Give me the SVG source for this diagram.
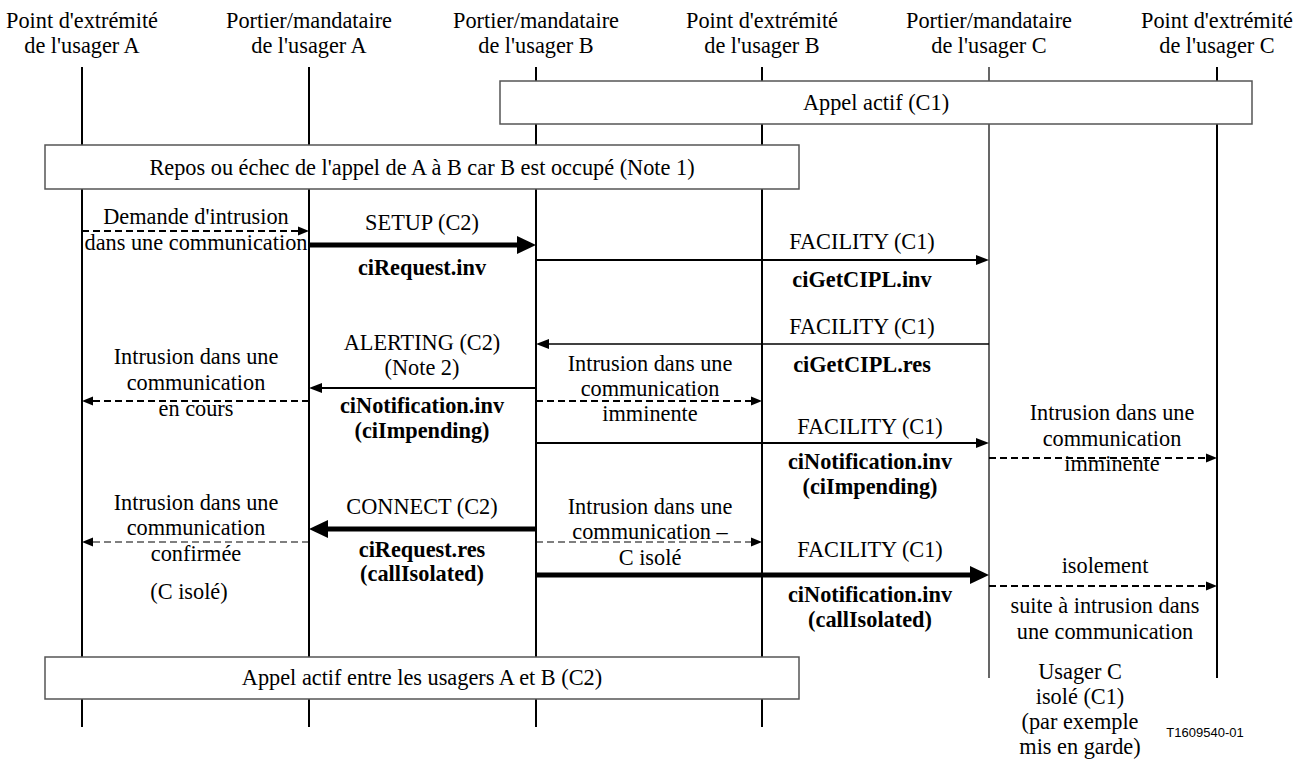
<svg xmlns="http://www.w3.org/2000/svg" width="1305" height="763" viewBox="0 0 1305 763">
  <style>
    .t { font-family: 'Liberation Serif', serif; font-size: 22.3px; fill: #000; text-anchor: middle; }
    .b { font-weight: bold; }
    .life { stroke: #000; stroke-width: 2; fill: none; }
    .life-thin { stroke: #000; stroke-width: 1.2; fill: none; }
    .box { fill: #fff; stroke: #555; stroke-width: 1.5; }
    .msg { stroke: #000; stroke-width: 2; fill: none; }
    .msg-thin { stroke: #000; stroke-width: 1.5; fill: none; }
    .msg-heavy { stroke: #000; stroke-width: 5; fill: none; }
    .dash { stroke: #000; stroke-width: 2; fill: none; stroke-dasharray: 7 4; }
    .dash-thin { stroke: #000; stroke-width: 1.2; fill: none; stroke-dasharray: 7 4; }
  </style>
  <defs>
    <marker id="ah" markerUnits="userSpaceOnUse" markerWidth="14" markerHeight="12" refX="0" refY="6" orient="auto">
      <path d="M0,1 L13,6 L0,11 Z" fill="#000"/>
    </marker>
    <marker id="ah-heavy" markerUnits="userSpaceOnUse" markerWidth="20" markerHeight="20" refX="0" refY="10" orient="auto">
      <path d="M0,1 L19,10 L0,19 Z" fill="#000"/>
    </marker>
    <marker id="ah-dash" markerUnits="userSpaceOnUse" markerWidth="12" markerHeight="12" refX="0" refY="6" orient="auto">
      <path d="M0,1.5 L11,6 L0,10.5 Z" fill="#000"/>
    </marker>
  </defs>

  <!-- lifelines -->
  <g id="lifelines">
    <line class="life" x1="82" y1="67" x2="82" y2="727"/>
    <line class="life" x1="309" y1="67" x2="309" y2="727"/>
    <line class="life" x1="536" y1="67" x2="536" y2="727"/>
    <line class="life" x1="762" y1="67" x2="762" y2="727"/>
    <line class="life-thin" x1="989" y1="67" x2="989" y2="678"/>
    <line class="life" x1="1217" y1="67" x2="1217" y2="678"/>
  </g>

  <!-- participant headers -->
  <g id="hdr-endpoint-a">
    <text class="t" x="82" y="28">Point d'extrémité</text>
    <text class="t" x="82" y="53">de l'usager A</text>
  </g>
  <g id="hdr-gatekeeper-a">
    <text class="t" x="309" y="28">Portier/mandataire</text>
    <text class="t" x="309" y="53">de l'usager A</text>
  </g>
  <g id="hdr-gatekeeper-b">
    <text class="t" x="536" y="28">Portier/mandataire</text>
    <text class="t" x="536" y="53">de l'usager B</text>
  </g>
  <g id="hdr-endpoint-b">
    <text class="t" x="762" y="28">Point d'extrémité</text>
    <text class="t" x="762" y="53">de l'usager B</text>
  </g>
  <g id="hdr-gatekeeper-c">
    <text class="t" x="989" y="28">Portier/mandataire</text>
    <text class="t" x="989" y="53">de l'usager C</text>
  </g>
  <g id="hdr-endpoint-c">
    <text class="t" x="1217" y="28">Point d'extrémité</text>
    <text class="t" x="1217" y="53">de l'usager C</text>
  </g>

  <!-- state boxes -->
  <g id="state-active-c1">
    <rect class="box" x="500" y="81" width="752" height="43"/>
    <text class="t" x="876" y="110">Appel actif (C1)</text>
  </g>
  <g id="state-idle">
    <rect class="box" x="45" y="145" width="754" height="44"/>
    <text class="t" x="422" y="175">Repos ou échec de l'appel de A à B car B est occupé (Note 1)</text>
  </g>
  <g id="state-active-ab">
    <rect class="box" x="45" y="657" width="754" height="42"/>
    <text class="t" x="422" y="685">Appel actif entre les usagers A et B (C2)</text>
  </g>

  <!-- connectors -->
  <g id="connectors">
    <line class="dash" x1="82" y1="231" x2="298" y2="231" marker-end="url(#ah-dash)"/>
    <line class="msg-heavy" x1="309" y1="245" x2="517" y2="245" marker-end="url(#ah-heavy)"/>
    <line class="msg" x1="536" y1="260" x2="976" y2="260" marker-end="url(#ah)"/>
    <line class="msg-thin" x1="989" y1="344" x2="549" y2="344" marker-end="url(#ah)"/>
    <line class="msg" x1="536" y1="388" x2="322" y2="388" marker-end="url(#ah)"/>
    <line class="dash" x1="309" y1="401" x2="93" y2="401" marker-end="url(#ah-dash)"/>
    <line class="dash" x1="536" y1="401" x2="751" y2="401" marker-end="url(#ah-dash)"/>
    <line class="msg" x1="536" y1="443" x2="976" y2="443" marker-end="url(#ah)"/>
    <line class="dash" x1="989" y1="458" x2="1206" y2="458" marker-end="url(#ah-dash)"/>
    <line class="msg-heavy" x1="536" y1="529" x2="328" y2="529" marker-end="url(#ah-heavy)"/>
    <line class="dash-thin" x1="309" y1="542" x2="93" y2="542" marker-end="url(#ah-dash)"/>
    <line class="dash-thin" x1="536" y1="542" x2="751" y2="542" marker-end="url(#ah-dash)"/>
    <line class="msg-heavy" x1="536" y1="575" x2="970" y2="575" marker-end="url(#ah-heavy)"/>
    <line class="dash" x1="989" y1="586" x2="1206" y2="586" marker-end="url(#ah-dash)"/>
  </g>

  <!-- message labels -->
  <g id="lbl-intrusion-request">
    <text class="t" x="196" y="224">Demande d'intrusion</text>
    <text class="t" x="196" y="250">dans une communication</text>
  </g>
  <g id="lbl-setup">
    <text class="t" x="422" y="230">SETUP (C2)</text>
    <text class="t b" x="422" y="275">ciRequest.inv</text>
  </g>
  <g id="lbl-facility-1">
    <text class="t" x="862" y="249">FACILITY (C1)</text>
    <text class="t b" x="862" y="287">ciGetCIPL.inv</text>
  </g>
  <g id="lbl-facility-2">
    <text class="t" x="862" y="334">FACILITY (C1)</text>
    <text class="t b" x="862" y="372">ciGetCIPL.res</text>
  </g>
  <g id="lbl-alerting">
    <text class="t" x="422" y="350">ALERTING (C2)</text>
    <text class="t" x="422" y="375">(Note 2)</text>
    <text class="t b" x="422" y="413">ciNotification.inv</text>
    <text class="t b" x="422" y="438">(ciImpending)</text>
  </g>
  <g id="lbl-intrusion-ongoing">
    <text class="t" x="196" y="364">Intrusion dans une</text>
    <text class="t" x="196" y="390">communication</text>
    <text class="t" x="196" y="416">en cours</text>
  </g>
  <g id="lbl-intrusion-imminent-b">
    <text class="t" x="650" y="371">Intrusion dans une</text>
    <text class="t" x="650" y="396">communication</text>
    <text class="t" x="650" y="421">imminente</text>
  </g>
  <g id="lbl-facility-3">
    <text class="t" x="870" y="434">FACILITY (C1)</text>
    <text class="t b" x="870" y="469">ciNotification.inv</text>
    <text class="t b" x="870" y="494">(ciImpending)</text>
  </g>
  <g id="lbl-intrusion-imminent-c">
    <text class="t" x="1112" y="420">Intrusion dans une</text>
    <text class="t" x="1112" y="446">communication</text>
    <text class="t" x="1112" y="471">imminente</text>
  </g>
  <g id="lbl-connect">
    <text class="t" x="422" y="514">CONNECT (C2)</text>
    <text class="t b" x="422" y="557">ciRequest.res</text>
    <text class="t b" x="422" y="581">(callIsolated)</text>
  </g>
  <g id="lbl-intrusion-confirmed">
    <text class="t" x="196" y="510">Intrusion dans une</text>
    <text class="t" x="196" y="535">communication</text>
    <text class="t" x="196" y="561">confirmée</text>
    <text class="t" x="189" y="599">(C isolé)</text>
  </g>
  <g id="lbl-intrusion-isolated-b">
    <text class="t" x="650" y="514">Intrusion dans une</text>
    <text class="t" x="650" y="539">communication –</text>
    <text class="t" x="650" y="565">C isolé</text>
  </g>
  <g id="lbl-facility-4">
    <text class="t" x="870" y="557">FACILITY (C1)</text>
    <text class="t b" x="870" y="602">ciNotification.inv</text>
    <text class="t b" x="870" y="627">(callIsolated)</text>
  </g>
  <g id="lbl-isolation">
    <text class="t" x="1105" y="573">isolement</text>
    <text class="t" x="1105" y="613">suite à intrusion dans</text>
    <text class="t" x="1105" y="639">une communication</text>
  </g>
  <g id="lbl-user-c-isolated">
    <text class="t" x="1080" y="679">Usager C</text>
    <text class="t" x="1080" y="704">isolé (C1)</text>
    <text class="t" x="1080" y="729">(par exemple</text>
    <text class="t" x="1080" y="754">mis en garde)</text>
  </g>
  <text font-family="Liberation Sans, sans-serif" font-size="13" text-anchor="middle" x="1205" y="737">T1609540-01</text>
</svg>
